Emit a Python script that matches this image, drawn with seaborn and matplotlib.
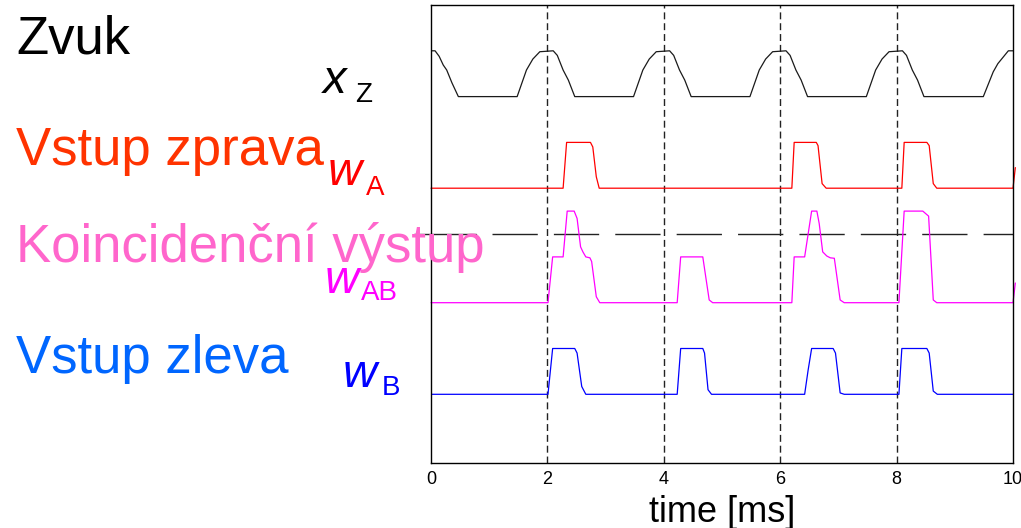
import matplotlib
matplotlib.use("Agg")
import matplotlib.pyplot as plt
import seaborn as sns

# ---------------- data ----------------
xz_t = [0.00, 0.07, 0.14, 0.21, 0.27, 0.36, 0.47,
        1.48, 1.64, 1.75, 1.87, 2.10, 2.17, 2.27, 2.36, 2.47,
        3.48, 3.64, 3.75, 3.87, 4.10, 4.17, 4.27, 4.36, 4.47,
        5.48, 5.64, 5.75, 5.87, 6.10, 6.17, 6.27, 6.36, 6.47,
        7.48, 7.64, 7.75, 7.87, 8.10, 8.17, 8.27, 8.36, 8.47,
        9.49, 9.66, 9.74, 9.92, 10.00]
xz_v = [9.00, 9.00, 8.88, 8.69, 8.58, 8.30, 8.00,
        8.00, 8.58, 8.82, 8.98, 9.00, 8.90, 8.58, 8.36, 8.00,
        8.00, 8.58, 8.82, 8.98, 9.00, 8.90, 8.58, 8.36, 8.00,
        8.00, 8.58, 8.82, 8.98, 9.00, 8.90, 8.58, 8.36, 8.00,
        8.00, 8.58, 8.82, 8.98, 9.00, 8.90, 8.58, 8.36, 8.00,
        8.00, 8.54, 8.72, 9.00, 9.00]

wa_t = [0.00, 2.27, 2.33, 2.74, 2.78, 2.84, 2.89,
        6.20, 6.24, 6.62, 6.65, 6.72, 6.79,
        8.09, 8.13, 8.52, 8.56, 8.63, 8.69,
        10.00, 10.04]
wa_v = [6.00, 6.00, 7.00, 7.00, 6.90, 6.25, 6.00,
        6.00, 7.00, 7.00, 6.93, 6.10, 6.00,
        6.00, 7.00, 7.00, 6.93, 6.10, 6.00,
        6.00, 6.45]

wab_t = [0.00, 2.01, 2.09, 2.27, 2.34, 2.46, 2.51, 2.57, 2.61, 2.66, 2.73, 2.76, 2.84, 2.90,
         4.23, 4.29, 4.67, 4.72, 4.78, 4.84,
         6.20, 6.24, 6.42, 6.54, 6.63, 6.67, 6.73, 6.80, 6.86, 6.93, 7.03, 7.10,
         8.04, 8.13, 8.45, 8.55, 8.63, 8.69,
         10.00, 10.04]
wab_v = [3.50, 3.50, 4.50, 4.50, 5.50, 5.50, 5.34, 4.72, 4.61, 4.50, 4.48, 4.40, 3.63, 3.50,
         3.50, 4.50, 4.50, 4.07, 3.56, 3.50,
         3.50, 4.50, 4.50, 5.50, 5.50, 5.23, 4.61, 4.52, 4.48, 4.47, 3.56, 3.50,
         3.50, 5.50, 5.50, 5.39, 3.56, 3.50,
         3.50, 3.93]

wb_t = [0.00, 2.01, 2.09, 2.47, 2.51, 2.59, 2.66,
        4.23, 4.29, 4.67, 4.70, 4.76, 4.82,
        6.42, 6.48, 6.54, 6.91, 6.95, 7.03, 7.10,
        8.04, 8.09, 8.52, 8.56, 8.63, 8.70,
        10.00]
wb_v = [1.50, 1.50, 2.50, 2.50, 2.40, 1.67, 1.50,
        1.50, 2.50, 2.50, 2.40, 1.60, 1.50,
        1.50, 2.03, 2.50, 2.50, 2.40, 1.53, 1.50,
        1.50, 2.50, 2.50, 2.40, 1.57, 1.50,
        1.50]

threshold = 5.0
guide_times = [2, 4, 6, 8]
xticks = [0, 2, 4, 6, 8, 10]

row_titles = ["Zvuk", "Vstup zprava", "Koincidenční výstup", "Vstup zleva"]

# ---------------- style ----------------
sns.set_theme(style="white")
plt.rcParams['font.family'] = ['Liberation Sans', 'DejaVu Sans']
plt.rcParams['lines.scale_dashes'] = False
plt.rcParams['text.color'] = 'black'
plt.rcParams['axes.labelcolor'] = 'black'
plt.rcParams['xtick.color'] = 'black'

W, H = 1021, 528
fig = plt.figure(figsize=(W / 100, H / 100), dpi=100)
ax = fig.add_axes([431 / W, 1 - 463 / H, (1013 - 431) / W, (463 - 5) / H])

lw = 0.9
sns.lineplot(x=xz_t, y=xz_v, ax=ax, color='#1a1a1a', lw=lw, estimator=None, sort=False)
sns.lineplot(x=wa_t, y=wa_v, ax=ax, color='#ff0000', lw=lw, estimator=None, sort=False)
ax.lines[-1].set_clip_on(False)
sns.lineplot(x=wab_t, y=wab_v, ax=ax, color='#ff00ff', lw=lw, estimator=None, sort=False)
ax.lines[-1].set_clip_on(False)
sns.lineplot(x=wb_t, y=wb_v, ax=ax, color='#0000ff', lw=lw, estimator=None, sort=False)

for g in guide_times:
    ax.axvline(g, color='#222222', lw=1.0, dashes=(5.0, 2.8), zorder=1)

# threshold dashed line
ax.plot([-0.30, 0.78], [threshold, threshold], color='#222222', lw=1.0, clip_on=False, zorder=1)
ax.plot([1.05, 10.0], [threshold, threshold], color='#222222', lw=1.0,
        dashes=(32.6, 11.6), zorder=1)

ax.set_xlim(0, 10)
ax.set_ylim(0, 10)
ax.set_yticks([])
ax.set_xticks(xticks)
ax.set_xticklabels([str(v) for v in xticks], fontsize=13, color='black')
ax.tick_params(axis='x', direction='in', length=3, width=0.8, pad=6, color='black')
ax.set_xlabel("time [ms]", fontsize=26, labelpad=5, color='black')
for s in ax.spines.values():
    s.set_color('black')
    s.set_linewidth(1.0)

# left row titles
title_colors = ['#000000', '#ff3300', '#ff66cc', '#0066ff']
title_baselines = [53, 165, 262, 373]
for txt, c, b in zip(row_titles, title_colors, title_baselines):
    fig.text(16 / W, 1 - b / H, txt, color=c, fontsize=38, ha='left', va='baseline')

# signal labels
sym = [("x", "Z", '#000000', 323, 93, 355, 102),
       ("w", "A", '#ff0000', 328, 185, 366, 195),
       ("w", "AB", '#ff00ff', 325, 293, 361, 300),
       ("w", "B", '#0000ff', 343, 387, 382, 395)]
for main, sub, c, mx, mb, sx, sb in sym:
    fig.text(mx / W, 1 - mb / H, main, color=c, fontsize=34, style='italic',
             ha='left', va='baseline')
    fig.text(sx / W, 1 - sb / H, sub, color=c, fontsize=20, ha='left', va='baseline')

fig.savefig("out.png", dpi=100)
